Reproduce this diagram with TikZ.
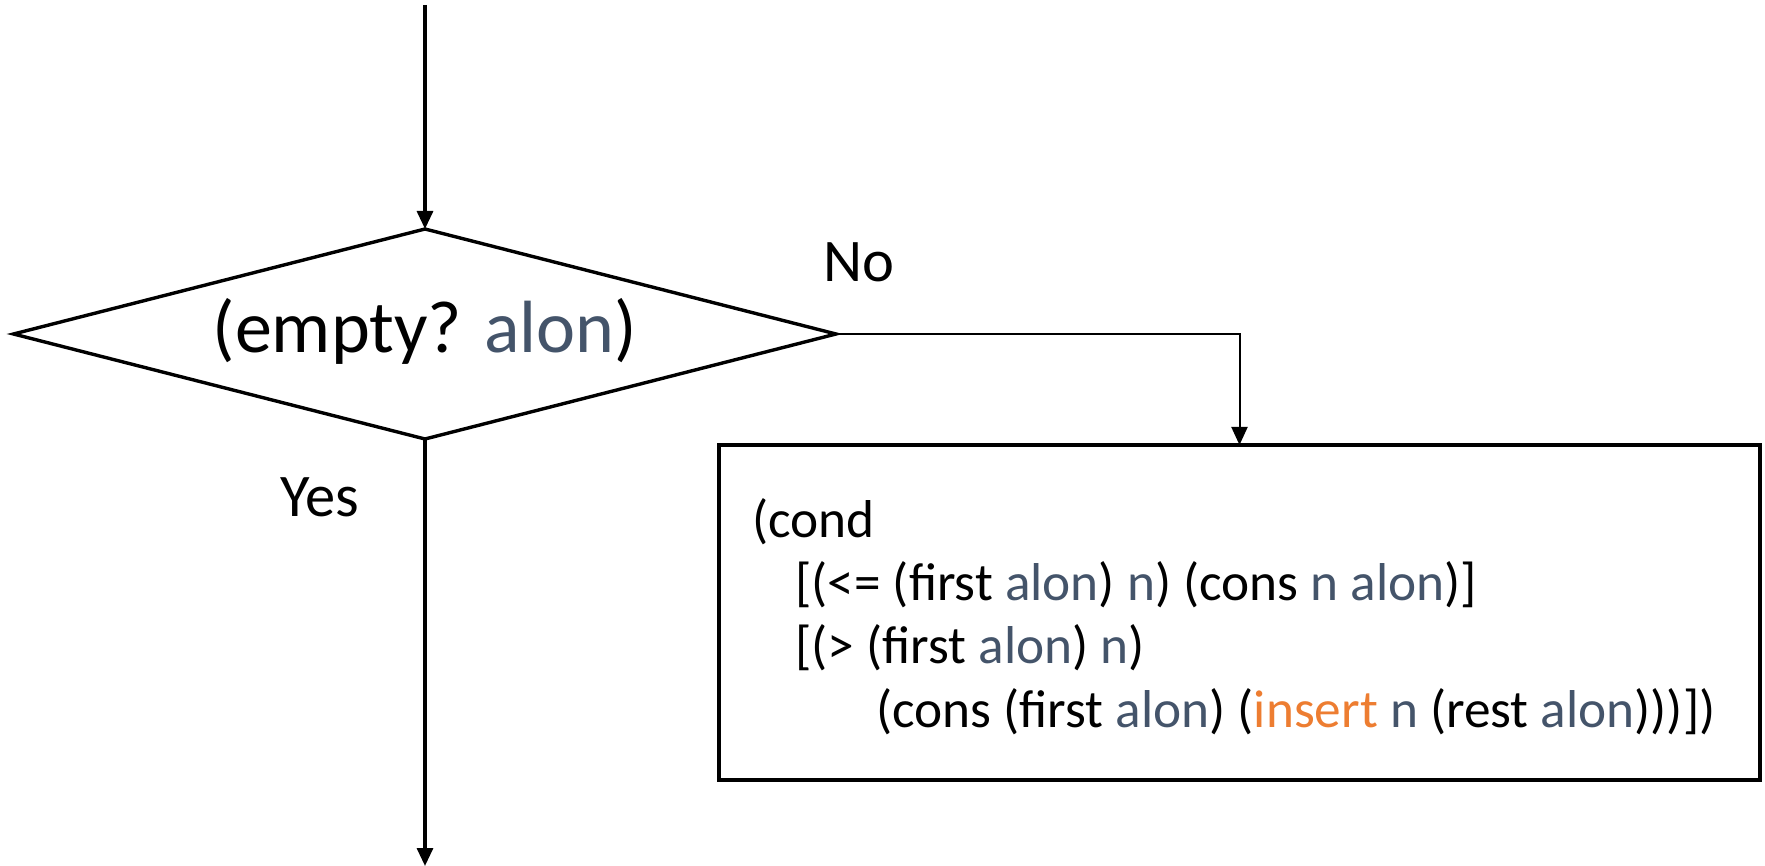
\documentclass[tikz,border=0pt]{standalone}
\usepackage{fontspec}
\setmainfont{Carlito}
\usetikzlibrary{arrows.meta}
\definecolor{slate}{HTML}{44546A}
\definecolor{accent}{HTML}{ED7D31}
\newcommand{\al}{\textcolor{slate}{alon}}
\newcommand{\nv}{\textcolor{slate}{n}}
\begin{document}
\begin{tikzpicture}[x=1pt,y=-1pt,
  decisiontext/.style={inner sep=0pt,font=\fontsize{74}{88}\selectfont},
  outline/.style={draw,line width=3.4pt,line join=miter},
  codebox/.style={rectangle,draw,line width=3.6pt,inner sep=0pt,outer sep=0pt,
    minimum width=1041pt,minimum height=335pt},
  codeline/.style={anchor=base west,inner sep=0pt,font=\fontsize{53.3}{64}\selectfont},
  lbl/.style={anchor=base west,inner sep=0pt,font=\fontsize{60.5}{70}\selectfont},
  arr/.style={-{Triangle[length=18pt,width=16pt]},line width=3.2pt},
  thinarr/.style={-{Triangle[length=18pt,width=16pt]},line width=2pt}]
\useasboundingbox (0,0) rectangle (1765,866);
\coordinate (dn) at (425,229);
\coordinate (ds) at (425,439);
\coordinate (dw) at (13.5,334);
\coordinate (de) at (836,334);
\draw[outline] (dn) -- (de) -- (ds) -- (dw) -- cycle;
\node[decisiontext,anchor=base] (d) at (425,353) {(empty? \al)};
\node[codebox] (b) at (1239.5,612.5) {};
\coordinate (top) at (425,5);
\coordinate (bot) at (425,866);
\draw[arr] (top) -- (dn);
\draw[arr] (ds) -- (bot);
\draw[thinarr] (de) -| (b.north);
\node[lbl] (no) at (823,282) {No};
\node[lbl] (yes) at (280,516) {Yes};
\node[codeline] (l1) at (752,537) {(cond};
\node[codeline] (l2) at (795,600) {[(<= (first \al) \nv) (cons \nv{} \al)]};
\node[codeline] (l3) at (795,663) {[(> (first \al) \nv)};
\node[codeline] (l4) at (876,727) {(cons (first \al) (\textcolor{accent}{insert} \nv{} (rest \al)))])};
\end{tikzpicture}
\end{document}
